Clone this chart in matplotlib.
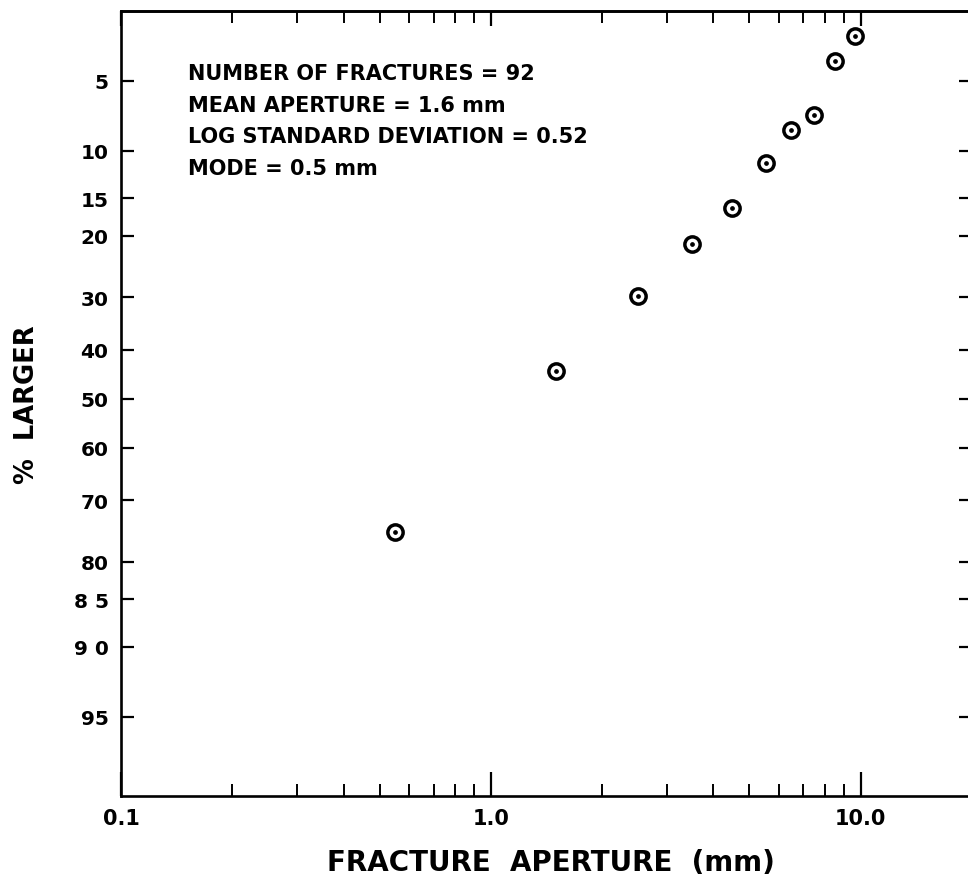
import numpy as np
import matplotlib
matplotlib.use("Agg")
import matplotlib.pyplot as plt
from statistics import NormalDist

# ---- data ----
aperture_mm = [0.55, 1.5, 2.5, 3.5, 4.5, 5.55, 6.5, 7.5, 8.5, 9.65]
percent_larger = [75.4, 44.2, 29.8, 21.2, 16.2, 11.1, 8.2, 7.1, 4.05, 3.05]

y_ticks = [5, 10, 15, 20, 30, 40, 50, 60, 70, 80, 85, 90, 95]
y_ticklabels = ["5", "10", "15", "20", "30", "40", "50", "60", "70", "80", "8 5", "9 0", "95"]
x_ticks = [0.1, 1.0, 10.0]
x_ticklabels = ["0.1", "1.0", "10.0"]
stats_lines = [
    "NUMBER OF FRACTURES = 92",
    "MEAN APERTURE = 1.6 mm",
    "LOG STANDARD DEVIATION = 0.52",
    "MODE = 0.5 mm",
]

_nd = NormalDist()
_inv_cdf = np.vectorize(lambda v: _nd.inv_cdf(v), otypes=[float])
_cdf = np.vectorize(lambda v: _nd.cdf(v), otypes=[float])


def _fwd(p):
    p = np.clip(np.asarray(p, dtype=float), 1e-6, 100 - 1e-6)
    return _inv_cdf(p / 100.0)


def _inv(z):
    z = np.asarray(z, dtype=float)
    return _cdf(z) * 100.0


plt.rcParams["font.weight"] = "bold"

W, H, DPI = 968, 879, 100
fig = plt.figure(figsize=(W / DPI, H / DPI), dpi=DPI)
left, right, top, bottom = 121, 972, 12, 797
ax = fig.add_axes([left / W, 1 - bottom / H, (right - left) / W, (bottom - top) / H])

ax.set_xscale("log")
ax.set_yscale("function", functions=(_fwd, _inv))
ax.set_xlim(0.1, 20)
ax.set_ylim(98, 2.25)

ax.plot(aperture_mm, percent_larger, linestyle="none", marker="o", markersize=11,
        markerfacecolor="white", markeredgecolor="black", markeredgewidth=2.5, zorder=3)
ax.plot(aperture_mm, percent_larger, linestyle="none", marker="o", markersize=2.4,
        color="black", zorder=4)

for s in ax.spines.values():
    s.set_linewidth(1.9)

ax.set_yticks(y_ticks)
ax.set_yticklabels(y_ticklabels)
ax.yaxis.set_minor_locator(matplotlib.ticker.NullLocator())
ax.tick_params(axis="y", which="major", direction="in", left=True, right=True,
               length=9.5, width=1.6, pad=9, labelsize=14.5)

ax.set_xticks(x_ticks)
ax.set_xticklabels(x_ticklabels)
ax.xaxis.set_minor_locator(matplotlib.ticker.LogLocator(base=10, subs=np.arange(2, 10)))
ax.xaxis.set_minor_formatter(matplotlib.ticker.NullFormatter())
ax.tick_params(axis="x", which="major", direction="in", top=False, bottom=True,
               length=17, width=1.6, pad=9, labelsize=15)
ax.tick_params(axis="x", which="minor", direction="in", top=False, bottom=True,
               length=8.5, width=1.4)

sec = ax.secondary_xaxis("top")
sec.set_xticks(x_ticks)
sec.tick_params(axis="x", which="major", direction="in", length=10.5, width=1.6, labeltop=False)
sec.tick_params(axis="x", which="minor", direction="in", length=8.5, width=1.4)
sec.xaxis.set_minor_locator(matplotlib.ticker.LogLocator(base=10, subs=np.arange(2, 10)))
sec.xaxis.set_minor_formatter(matplotlib.ticker.NullFormatter())
sec.set_xticklabels([])
sec.spines["top"].set_linewidth(1.9)

fig.text(551 / W, 1 - 863 / H, "FRACTURE  APERTURE  (mm)", ha="center", va="center",
         fontsize=20)
fig.text(27 / W, 1 - 405 / H, "%  LARGER", ha="center", va="center", rotation=90,
         fontsize=18.5)

for i, line in enumerate(stats_lines):
    fig.text(188 / W, 1 - (80 + i * 31.7) / H, line, ha="left", va="baseline",
             fontsize=15)

fig.savefig("out.png", dpi=DPI)
